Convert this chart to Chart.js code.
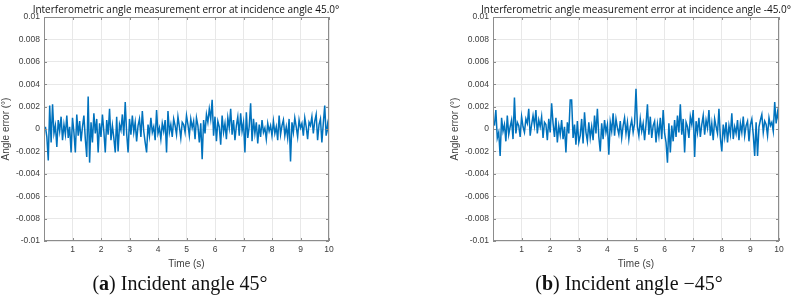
<!DOCTYPE html>
<html>
<head>
<meta charset="utf-8">
<script src="https://cdn.jsdelivr.net/npm/chart.js@4/dist/chart.umd.min.js"></script>
<style>
  body { margin: 0; background: #fff; width: 793px; height: 305px; overflow: hidden; position: relative; }
  .painel { position: absolute; top: 0; height: 275px; }
  .titulo { position: absolute; top: 2px; transform: translateX(-50%); white-space: nowrap;
            font-family: "Open Sans", sans-serif; font-size: 10px; color: #111; line-height: 14px; }
  .legenda { position: absolute; top: 272px; transform: translateX(-50%); white-space: nowrap;
             font-family: "Liberation Serif", serif; font-size: 20px; color: #111; }
</style>
</head>
<body>
<div class="painel" style="left:0;width:345px"><canvas id="graficoA"></canvas></div>
<div class="painel" style="left:449px;width:344px"><canvas id="graficoB"></canvas></div>

<div class="titulo" style="left:186px">Interferometric angle measurement error at incidence angle 45.0°</div>
<div class="titulo" style="left:636px">Interferometric angle measurement error at incidence angle -45.0°</div>
<div class="legenda" style="left:180px">(<b>a</b>) Incident angle 45°</div>
<div class="legenda" style="left:629px">(<b>b</b>) Incident angle −45°</div>

<script>
// Amostragem do tempo (s)
const passoTempo = 0.05;
const ticksX = [1, 2, 3, 4, 5, 6, 7, 8, 9, 10];
const ticksY = [0.01, 0.008, 0.006, 0.004, 0.002, 0, -0.002, -0.004, -0.006, -0.008, -0.01];

// Erro de ângulo (°) para incidência 45°
const erroA = [
  0.0002, -0.0007, -0.0028, 0.0021, -0.0012, 0.0022, -0.0004, 0.0003, -0.0016, 0.0008,
  -0.0002, 0.0011, -0.0010, 0.0004, -0.0005, 0.0012, -0.0008, 0.0002, -0.0021, 0.0010,
  -0.0003, -0.0021, 0.0013, -0.0006, 0.0007, -0.0011, 0.0002, 0.0012, -0.0009, -0.0025,
  0.0029, -0.0030, 0.0006, -0.0012, 0.0014, -0.0004, 0.0009, -0.0021, 0.0005, -0.0007,
  0.0013, -0.0002, -0.0021, 0.0008, -0.0005, 0.0018, -0.0010, 0.0003, -0.0008, -0.0021,
  0.0011, -0.0020, 0.0004, -0.0001, 0.0013, -0.0006, 0.0024, -0.0004, -0.0021, 0.0009,
  -0.0005, 0.0012, -0.0003, 0.0006, -0.0011, 0.0003, 0.0009, -0.0007, 0.0016, -0.0002,
  -0.0012, -0.0021, 0.0004, -0.0006, 0.0010, -0.0003, 0.0002, -0.0010, 0.0017, -0.0004,
  0.0001, -0.0009, 0.0005, -0.0002, 0.0008, -0.0021, 0.0016, -0.0003, 0.0004, -0.0007,
  0.0009, 0.0003, -0.0005, 0.0011, 0.0002, -0.0008, 0.0006, 0.0004, -0.0003, 0.0012,
  0.0004, -0.0006, 0.0009, 0.0001, 0.0007, -0.0009, 0.0010, 0.0003, -0.0012, 0.0005,
  -0.0027, 0.0008, -0.0004, 0.0013, 0.0006, 0.0018, 0.0009, 0.0026, -0.0006, 0.0011,
  -0.0011, 0.0007, 0.0002, -0.0014, 0.0012, -0.0003, 0.0005, -0.0009, 0.0010, 0.0001,
  0.0018, -0.0005, 0.0008, -0.0010, 0.0003, 0.0011, -0.0006, 0.0014, -0.0002, 0.0006,
  -0.0021, 0.0015, -0.0008, 0.0002, 0.0023, -0.0011, 0.0009, -0.0004, 0.0006, -0.0013,
  0.0004, -0.0007, 0.0008, -0.0003, 0.0001, -0.0009, 0.0005, -0.0002, 0.0003, -0.0006,
  0.0007, -0.0004, 0.0002, -0.0010, 0.0012, -0.0005, 0.0003, 0.0008, -0.0006, 0.0002,
  -0.0008, 0.0009, -0.0029, 0.0006, -0.0003, 0.0010, 0.0002, -0.0007, 0.0008, 0.0001,
  0.0005, -0.0006, 0.0010, 0.0002, -0.0009, 0.0006, 0.0003, 0.0011, -0.0004, 0.0007,
  0.0013, -0.0010, 0.0004, 0.0009, -0.0012, 0.0005, 0.0021, -0.0006, 0.0004, -0.0007
];

// Erro de ângulo (°) para incidência -45°
const erroB = [
  0.0003, 0.0017, -0.0008, -0.0003, -0.0024, 0.0010, -0.0002, 0.0004, -0.0011, 0.0012,
  -0.0005, 0.0002, 0.0008, -0.0009, 0.0028, -0.0004, 0.0006, 0.0003, -0.0007, 0.0011,
  0.0002, -0.0003, 0.0009, 0.0005, 0.0018, -0.0006, 0.0004, 0.0012, 0.0003, 0.0017,
  -0.0004, 0.0008, 0.0002, 0.0011, -0.0008, 0.0006, 0.0004, -0.0010, 0.0009, -0.0003,
  0.0023, 0.0005, -0.0007, 0.0010, -0.0012, 0.0003, -0.0005, 0.0008, -0.0009, 0.0002,
  -0.0021, 0.0006, -0.0004, 0.0026, 0.0026, -0.0008, 0.0004, -0.0014, 0.0007, -0.0012,
  -0.0006, 0.0009, -0.0013, 0.0015, -0.0003, -0.0011, 0.0006, -0.0008, 0.0002, -0.0010,
  0.0012, -0.0004, 0.0018, -0.0007, -0.0020, 0.0005, -0.0009, 0.0008, -0.0003, 0.0004,
  -0.0023, 0.0006, -0.0002, 0.0014, -0.0006, 0.0009, 0.0001, -0.0005, 0.0007, -0.0008,
  0.0003, 0.0010, -0.0004, 0.0006, -0.0009, 0.0002, 0.0008, -0.0003, 0.0005, 0.0036,
  0.0002, -0.0006, 0.0009, -0.0002, 0.0005, -0.0010, 0.0004, 0.0022, -0.0005, 0.0011,
  -0.0008, 0.0003, 0.0007, -0.0012, 0.0004, -0.0006, 0.0010, -0.0009, 0.0017, -0.0004,
  -0.0012, -0.0030, 0.0005, -0.0021, 0.0003, -0.0011, 0.0008, -0.0007, 0.0012, -0.0003,
  0.0022, -0.0005, 0.0009, -0.0021, 0.0006, 0.0002, -0.0008, 0.0011, 0.0004, 0.0017,
  -0.0025, 0.0007, -0.0003, 0.0010, -0.0007, 0.0004, 0.0012, -0.0005, 0.0008, 0.0001,
  0.0017, -0.0006, 0.0005, -0.0010, 0.0009, 0.0002, -0.0004, 0.0018, -0.0008, -0.0020,
  0.0004, -0.0007, 0.0006, -0.0012, 0.0003, -0.0005, 0.0014, -0.0009, 0.0002, -0.0004,
  0.0008, -0.0010, 0.0005, -0.0003, 0.0011, -0.0006, 0.0003, 0.0007, -0.0011, 0.0004,
  0.0009, -0.0005, -0.0024, 0.0006, -0.0024, 0.0002, 0.0008, 0.0013, -0.0003, 0.0007,
  0.0004, -0.0006, 0.0010, 0.0003, 0.0006, -0.0002, 0.0024, 0.0005, 0.0015, 0.0006
];

// Moldura estilo MATLAB com marcas internas
const moldura = {
    id: "moldura",
    afterDraw(chart) {
        const { ctx, chartArea: a, scales } = chart;
        ctx.save();
        ctx.strokeStyle = "#8c8c8c";
        ctx.lineWidth = 1;
        ctx.strokeRect(a.left + 0.5, a.top + 0.5, a.right - a.left - 1, a.bottom - a.top - 1);
        ctx.beginPath();
        ticksX.forEach((v) => {
            const x = Math.round(scales.x.getPixelForValue(v)) + 0.5;
            ctx.moveTo(x, a.bottom); ctx.lineTo(x, a.bottom - 3);
            ctx.moveTo(x, a.top); ctx.lineTo(x, a.top + 3);
        });
        ticksY.forEach((v) => {
            const y = Math.round(scales.y.getPixelForValue(v)) + 0.5;
            ctx.moveTo(a.left, y); ctx.lineTo(a.left + 3, y);
            ctx.moveTo(a.right, y); ctx.lineTo(a.right - 3, y);
        });
        ctx.stroke();
        ctx.restore();
    }
};

function criarGrafico(id, valores, padDireita) {
    const pontos = valores.map((v, i) => ({ x: (i + 1) * passoTempo, y: v }));
    const fonteTick = { family: "Liberation Sans", size: 8.5 };

    new Chart(document.getElementById(id), {
        type: "line",
        data: {
            datasets: [
                {
                    data: pontos,
                    borderColor: "#0072BD",
                    borderWidth: 1.5,
                    pointRadius: 0,
                    tension: 0,
                    fill: false,
                },
            ],
        },
        options: {
            responsive: true,
            maintainAspectRatio: false,
            animation: false,
            layout: { padding: { top: 17, right: padDireita, left: 0, bottom: 0 } },
            plugins: { legend: { display: false }, tooltip: { enabled: false } },
            scales: {
                x: {
                    type: "linear",
                    min: 0,
                    max: 10,
                    afterBuildTicks: (escala) => { escala.ticks = [0].concat(ticksX).map((v) => ({ value: v })); },
                    afterFit: (escala) => { escala.height = 34; },
                    grid: { color: "#e8e8e8", drawTicks: false },
                    border: { display: false },
                    ticks: {
                        color: "#404040",
                        font: fonteTick,
                        padding: 4,
                        maxRotation: 0,
                        callback: (v) => (v === 0 ? "" : String(v)),
                    },
                    title: {
                        display: true,
                        text: "Time (s)",
                        color: "#404040",
                        font: { family: "Liberation Sans", size: 10 },
                        padding: { top: 0, bottom: 5 },
                    },
                },
                y: {
                    min: -0.01,
                    max: 0.01,
                    afterBuildTicks: (escala) => { escala.ticks = ticksY.map((v) => ({ value: v })); },
                    afterFit: (escala) => { escala.width = 44; },
                    grid: { color: "#e8e8e8", drawTicks: false },
                    border: { display: false },
                    ticks: {
                        color: "#404040",
                        font: fonteTick,
                        padding: 4,
                        callback: (v) => String(Number(v.toFixed(3))),
                    },
                    title: {
                        display: true,
                        text: "Angle error (°)",
                        color: "#404040",
                        font: { family: "Liberation Sans", size: 10 },
                        padding: { top: 0, bottom: 0 },
                    },
                },
            },
        },
        plugins: [moldura],
    });
}

criarGrafico("graficoA", erroA, 16);
criarGrafico("graficoB", erroB, 14);
</script>
</body>
</html>
